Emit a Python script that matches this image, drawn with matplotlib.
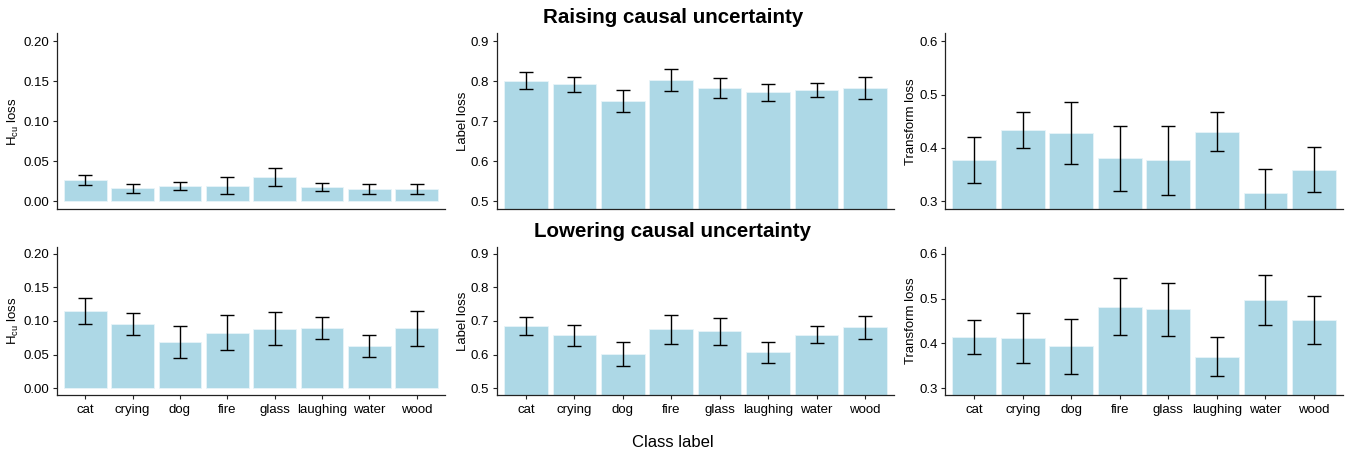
import numpy as np
import matplotlib
matplotlib.use('Agg')
import matplotlib.pyplot as plt

plt.rcParams['font.family'] = ['Liberation Sans', 'DejaVu Sans']
plt.rcParams['mathtext.fontset'] = 'custom'
plt.rcParams['mathtext.rm'] = 'Liberation Sans'
plt.rcParams['mathtext.it'] = 'Liberation Sans'

classes = ['cat', 'crying', 'dog', 'fire', 'glass', 'laughing', 'water', 'wood']

# raising causal uncertainty: means and half error bars
raise_hcu = [0.0265, 0.0163, 0.0192, 0.0192, 0.0304, 0.0179, 0.0154, 0.0150]
raise_hcu_se = [0.0067, 0.0055, 0.0054, 0.0106, 0.0110, 0.0054, 0.0062, 0.0063]
raise_label = [0.801, 0.7925, 0.750, 0.8025, 0.784, 0.7725, 0.779, 0.783]
raise_label_se = [0.021, 0.019, 0.028, 0.027, 0.025, 0.021, 0.0175, 0.0267]
raise_trans = [0.3767, 0.4329, 0.4285, 0.3805, 0.3767, 0.4304, 0.315, 0.3593]
raise_trans_se = [0.0428, 0.0337, 0.058, 0.0605, 0.064, 0.0371, 0.0455, 0.0415]

# lowering causal uncertainty
lower_hcu = [0.1144, 0.0960, 0.0687, 0.0826, 0.0886, 0.0896, 0.0627, 0.0890]
lower_hcu_se = [0.0194, 0.0162, 0.0236, 0.0262, 0.0242, 0.0165, 0.0169, 0.0259]
lower_label = [0.685, 0.657, 0.6015, 0.675, 0.669, 0.6075, 0.659, 0.681]
lower_label_se = [0.0255, 0.0315, 0.0362, 0.0435, 0.0405, 0.031, 0.025, 0.034]
lower_trans = [0.414, 0.4117, 0.3938, 0.4817, 0.4765, 0.3707, 0.4973, 0.4519]
lower_trans_se = [0.0372, 0.0562, 0.0614, 0.0633, 0.0592, 0.0435, 0.0555, 0.054]

hcu_ticks = [0.00, 0.05, 0.10, 0.15, 0.20]
label_ticks = [0.5, 0.6, 0.7, 0.8, 0.9]
trans_ticks = [0.3, 0.4, 0.5, 0.6]

fig = plt.figure(figsize=(13.46, 4.54), dpi=100)

col_x = [(0.0423, 0.2883), (0.3692, 0.2950), (0.7021, 0.2957)]
row_y = [(0.539, 0.388), (0.130, 0.326)]

panels = [
    [(raise_hcu, raise_hcu_se, hcu_ticks, (-0.01, 0.21), r'H$_{\mathregular{cu}}$ loss', '%.2f'),
     (raise_label, raise_label_se, label_ticks, (0.48, 0.92), 'Label loss', '%.1f'),
     (raise_trans, raise_trans_se, trans_ticks, (0.285, 0.615), 'Transform loss', '%.1f')],
    [(lower_hcu, lower_hcu_se, hcu_ticks, (-0.01, 0.21), r'H$_{\mathregular{cu}}$ loss', '%.2f'),
     (lower_label, lower_label_se, label_ticks, (0.48, 0.92), 'Label loss', '%.1f'),
     (lower_trans, lower_trans_se, trans_ticks, (0.285, 0.615), 'Transform loss', '%.1f')],
]

x = np.arange(1, len(classes) + 1)
for r in range(2):
    for c in range(3):
        vals, se, ticks, lim, ylab, fmt = panels[r][c]
        ax = fig.add_axes([col_x[c][0], row_y[r][0], col_x[c][1], row_y[r][1]])
        ax.bar(x, vals, width=0.9, color='#ADD8E6', edgecolor='#e8f4f8', linewidth=0.6, zorder=1)
        ax.errorbar(x, vals, yerr=se, fmt='none', ecolor='black', elinewidth=1,
                    capsize=5, capthick=1, zorder=2, clip_on=True)
        ax.set_xlim(0.4, 8.6)
        ax.set_ylim(*lim)
        ax.set_yticks(ticks)
        ax.set_yticklabels([fmt % t for t in ticks])
        ax.set_ylabel(ylab, fontsize=9.5, labelpad=1.5)
        for s in ['top', 'right']:
            ax.spines[s].set_visible(False)
        for s in ['left', 'bottom']:
            ax.spines[s].set_color('#222222')
            ax.spines[s].set_linewidth(0.9)
        ax.tick_params(axis='both', length=3, width=0.8, colors='#222222', labelsize=9.5,
                       labelcolor='black')
        ax.tick_params(axis='y', pad=2.5)
        ax.set_xticks(x)
        if r == 1:
            ax.set_xticklabels(classes)
        else:
            ax.set_xticklabels([])
            ax.tick_params(axis='x', length=0)

fig.text(0.5, 0.962, 'Raising causal uncertainty', ha='center', va='center',
         fontsize=14.8, fontweight='bold')
fig.text(0.5, 0.491, 'Lowering causal uncertainty', ha='center', va='center',
         fontsize=14.8, fontweight='bold')
fig.text(0.5, 0.026, 'Class label', ha='center', va='center', fontsize=12)

fig.savefig('out.png', dpi=100)
